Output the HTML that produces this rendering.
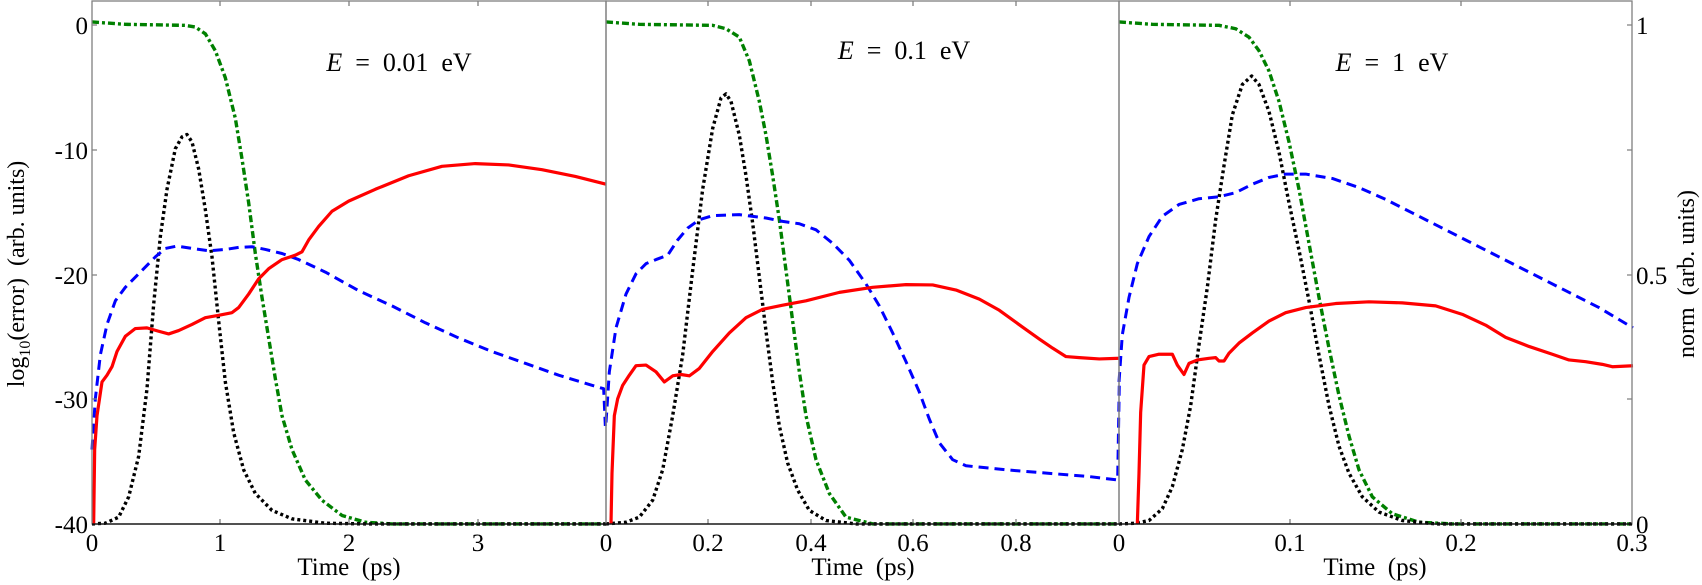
<!DOCTYPE html>
<html><head><meta charset="utf-8"><style>
html,body{margin:0;padding:0;background:#fff}
svg{display:block}
text{font-family:"Liberation Serif",serif;fill:#000}
.c{fill:none;stroke-linejoin:round;vector-effect:non-scaling-stroke}
.g{stroke:#008000;stroke-width:3.4;stroke-dasharray:7,3,3,3}
.k{stroke:#000;stroke-width:3.4;stroke-dasharray:3,3}
.b{stroke:#0000ff;stroke-width:3;stroke-dasharray:10,6}
.r{stroke:#ff0000;stroke-width:3.2}
</style></head><body>
<svg width="1702" height="585" viewBox="0 0 1702 585" xmlns="http://www.w3.org/2000/svg">
<g transform="translate(92,0) scale(0.33333,0.338)">
<polyline class="c g" points="0,65 100,72 280,75 310,80 340,100 370,150 400,230 430,350 450,470 470,600 490,750 510,880 530,1000 550,1120 570,1230 600,1330 640,1420 690,1480 750,1525 820,1545 900,1550 1542,1550"/>
<polyline class="c k" points="0,1550 40,1548 80,1530 110,1470 140,1350 165,1150 185,900 205,700 225,560 250,440 270,405 285,398 300,420 320,500 340,620 360,760 380,950 400,1130 425,1280 455,1390 490,1460 540,1510 600,1535 700,1548 820,1550 1542,1550"/>
<polyline class="c b" points="0,1330 10,1180 25,1050 45,960 70,890 100,850 130,820 160,790 190,760 220,735 255,728 300,735 350,742 400,738 440,732 480,730 520,738 570,750 620,768 700,805 800,860 900,905 1000,955 1100,1000 1200,1040 1300,1075 1400,1110 1500,1140 1535,1150 1540,1260"/>
<polyline class="c r" points="5,1550 8,1330 15,1230 30,1130 45,1110 60,1085 75,1040 100,995 130,972 165,970 200,980 230,988 260,978 300,960 340,940 380,933 420,925 440,910 470,870 500,825 530,795 570,768 610,755 630,745 650,710 680,670 720,625 770,595 850,560 950,520 1050,492 1150,484 1250,488 1350,502 1450,522 1542,545"/>
</g>
<g transform="translate(606,0) scale(0.33333,0.338)">
<polyline class="c g" points="0,65 100,72 320,75 360,85 400,110 430,180 460,300 480,400 500,520 520,650 540,800 560,950 580,1100 600,1230 630,1360 670,1460 720,1530 800,1550 1542,1550"/>
<polyline class="c k" points="0,1550 60,1545 100,1530 140,1480 170,1390 200,1230 230,1050 260,800 290,560 320,380 345,290 360,278 375,300 400,400 420,520 440,660 460,820 480,980 500,1130 520,1260 545,1370 575,1450 610,1510 660,1540 750,1550 1542,1550"/>
<polyline class="c b" points="0,1250 10,1100 30,970 60,870 90,810 120,780 150,768 185,755 215,710 245,675 280,650 320,638 400,635 480,645 530,655 580,662 630,680 680,720 730,770 780,840 820,905 860,985 900,1070 940,1160 970,1240 1000,1310 1040,1360 1080,1378 1200,1390 1350,1402 1450,1410 1535,1420 1540,1130"/>
<polyline class="c r" points="15,1550 18,1400 25,1230 35,1180 50,1140 70,1110 90,1082 120,1080 150,1100 175,1130 200,1112 225,1108 250,1112 280,1090 320,1040 370,985 420,940 470,915 530,903 600,890 700,865 800,850 900,842 980,843 1050,858 1120,885 1180,918 1250,968 1300,1003 1340,1030 1380,1055 1420,1058 1480,1062 1542,1060"/>
</g>
<g transform="translate(1119,0) scale(0.33333,0.338)">
<polyline class="c g" points="0,65 100,72 300,75 350,85 390,110 420,150 450,210 480,300 510,420 540,560 570,720 600,880 630,1030 660,1170 690,1290 720,1390 760,1470 820,1520 900,1545 1000,1550 1542,1550"/>
<polyline class="c k" points="0,1550 50,1548 90,1540 130,1505 160,1440 190,1330 215,1200 240,1020 265,850 290,650 315,490 340,340 370,250 398,225 420,250 450,330 480,450 510,600 540,740 570,890 600,1050 630,1200 660,1320 690,1400 730,1470 780,1515 850,1540 950,1550 1542,1550"/>
<polyline class="c b" points="0,1130 10,990 30,880 55,780 90,700 130,640 180,605 240,588 300,582 350,570 400,545 450,525 500,515 560,515 640,528 720,555 800,590 880,630 960,670 1040,710 1120,750 1200,790 1280,830 1360,870 1440,910 1542,970"/>
<polyline class="c r" points="55,1550 60,1400 65,1220 75,1080 90,1055 120,1048 160,1048 175,1080 195,1108 210,1075 235,1065 270,1060 290,1058 300,1068 315,1068 330,1045 360,1015 400,985 450,950 500,925 560,910 650,898 750,893 850,896 950,905 1030,930 1100,962 1160,998 1230,1025 1300,1048 1350,1065 1400,1070 1450,1078 1480,1085 1542,1082"/>
</g>
<g fill="none" stroke="#808080" stroke-width="1.3">
<rect x="92" y="1" width="514" height="523"/>
<rect x="606" y="1" width="513" height="523"/>
<rect x="1119" y="1" width="513" height="523"/>
<path d="M92,25h5M92,150h5M92,275h5M92,399h5"/>
<path d="M1632,25h-5M1632,150h-5M1632,275h-5M1632,399h-5"/>
<path d="M220,524v-5M349,524v-5M478,524v-5M220,1v5M349,1v5M478,1v5"/>
<path d="M708,524v-5M811,524v-5M913,524v-5M1016,524v-5M708,1v5M811,1v5M913,1v5M1016,1v5"/>
<path d="M1290,524v-5M1461,524v-5M1290,1v5M1461,1v5"/>
</g>
<line x1="92" y1="524" x2="1632" y2="524" stroke="#000" stroke-width="1.3"/>
<g font-size="25" text-anchor="end">
<text x="88" y="34">0</text>
<text x="88" y="159">-10</text>
<text x="88" y="284">-20</text>
<text x="88" y="408">-30</text>
<text x="88" y="533">-40</text>
</g>
<g font-size="25" text-anchor="start">
<text x="1636" y="34">1</text>
<text x="1636" y="284">0.5</text>
<text x="1636" y="533">0</text>
</g>
<g font-size="25" text-anchor="middle">
<text x="92" y="551">0</text><text x="220" y="551">1</text><text x="349" y="551">2</text><text x="478" y="551">3</text>
<text x="606" y="551">0</text><text x="708" y="551">0.2</text><text x="811" y="551">0.4</text><text x="913" y="551">0.6</text><text x="1016" y="551">0.8</text>
<text x="1119" y="551">0</text><text x="1290" y="551">0.1</text><text x="1461" y="551">0.2</text><text x="1632" y="551">0.3</text>
<text x="349" y="575" xml:space="preserve">Time  (ps)</text>
<text x="863" y="575" xml:space="preserve">Time  (ps)</text>
<text x="1375" y="575" xml:space="preserve">Time  (ps)</text>
</g>
<g font-size="26" text-anchor="middle">
<text x="399" y="71" xml:space="preserve"><tspan font-style="italic">E</tspan>  =  0.01  eV</text>
<text x="904" y="59" xml:space="preserve"><tspan font-style="italic">E</tspan>  =  0.1  eV</text>
<text x="1392" y="71" xml:space="preserve"><tspan font-style="italic">E</tspan>  =  1  eV</text>
</g>
<g font-size="24" text-anchor="middle">
<text transform="translate(24,274) rotate(-90)" xml:space="preserve">log<tspan font-size="16" dy="6">10</tspan><tspan dy="-6">(error)  (arb. units)</tspan></text>
<text transform="translate(1694,274) rotate(-90)" xml:space="preserve">norm  (arb. units)</text>
</g>
</svg>
</body></html>
